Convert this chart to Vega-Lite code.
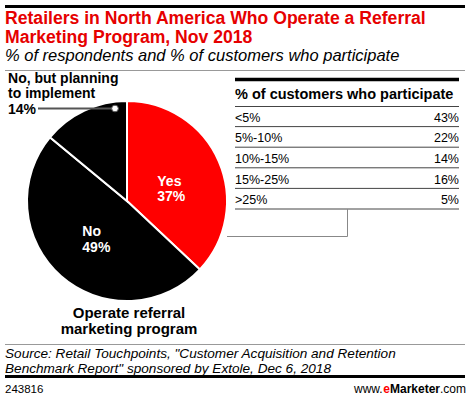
{
  "$schema": "https://vega.github.io/schema/vega-lite/v6.json",
  "background": "white",
  "autosize": {"type": "none"},
  "width": 461,
  "height": 394,
  "padding": {"left": 5, "top": 5, "right": 4, "bottom": 0},
  "config": {"view": {"stroke": null}, "font": "Liberation Sans"},
  "datasets": {
    "operate": [
      {"answer": "Yes", "share": 0.37, "rank": 1},
      {"answer": "No", "share": 0.49, "rank": 2},
      {"answer": "No, but planning\nto implement", "share": 0.14, "rank": 3}
    ],
    "participate": [
      {"range": "<5%", "share": 0.43},
      {"range": "5%-10%", "share": 0.22},
      {"range": "10%-15%", "share": 0.14},
      {"range": "15%-25%", "share": 0.16},
      {"range": ">25%", "share": 0.05}
    ],
    "one": [{}]
  },
  "layer": [
    {"data": {"name": "one"}, "mark": {"type": "rule", "color": "#000000", "strokeWidth": 3}, "encoding": {"x": {"value": 0}, "x2": {"value": 460}, "y": {"value": 1.5}}},
    {"data": {"name": "one"}, "mark": {"type": "text", "text": ["Retailers in North America Who Operate a Referral", "Marketing Program, Nov 2018"], "align": "left", "baseline": "alphabetic", "fontSize": 17.6, "fontWeight": "bold", "color": "#e60000", "lineHeight": 18.5}, "encoding": {"x": {"value": 0}, "y": {"value": 19}}},
    {"data": {"name": "one"}, "mark": {"type": "text", "text": "% of respondents and % of customers who participate", "align": "left", "baseline": "alphabetic", "fontSize": 16.5, "fontStyle": "italic", "color": "#000000"}, "encoding": {"x": {"value": 0}, "y": {"value": 55.5}}},
    {"data": {"name": "one"}, "mark": {"type": "rule", "color": "#999999", "strokeWidth": 1}, "encoding": {"x": {"value": 0}, "x2": {"value": 460}, "y": {"value": 65.5}}},

    {"data": {"name": "operate"}, "mark": {"type": "arc", "outerRadius": 100, "stroke": "#ffffff", "strokeWidth": 2},
     "encoding": {
       "x": {"value": 122}, "y": {"value": 196},
       "theta": {"field": "share", "type": "quantitative", "stack": true},
       "order": {"field": "rank", "type": "quantitative"},
       "color": {"field": "answer", "type": "nominal", "scale": {"domain": ["Yes", "No", "No, but planning\nto implement"], "range": ["#ff0000", "#000000", "#000000"]}, "legend": null}
     }},
    {"data": {"name": "operate"}, "mark": {"type": "text", "radius": 33, "align": "left", "baseline": "middle", "dy": -6, "fontSize": 14, "fontWeight": "bold", "color": "#ffffff"},
     "encoding": {"x": {"value": 122}, "y": {"value": 196}, "theta": {"field": "share", "type": "quantitative", "stack": true}, "order": {"field": "rank", "type": "quantitative"},
       "text": {"condition": {"test": "datum.answer === 'Yes'", "field": "answer"}, "value": ""}}},
    {"data": {"name": "operate"}, "mark": {"type": "text", "radius": 33, "align": "left", "baseline": "middle", "dy": 9.5, "fontSize": 14, "fontWeight": "bold", "color": "#ffffff"},
     "encoding": {"x": {"value": 122}, "y": {"value": 196}, "theta": {"field": "share", "type": "quantitative", "stack": true}, "order": {"field": "rank", "type": "quantitative"},
       "text": {"condition": {"test": "datum.answer === 'Yes'", "field": "share", "format": ".0%"}, "value": ""}}},
    {"data": {"name": "operate"}, "mark": {"type": "text", "radius": 60, "align": "left", "baseline": "middle", "dx": -5, "dy": -14, "fontSize": 14, "fontWeight": "bold", "color": "#ffffff"},
     "encoding": {"x": {"value": 122}, "y": {"value": 196}, "theta": {"field": "share", "type": "quantitative", "stack": true}, "order": {"field": "rank", "type": "quantitative"},
       "text": {"condition": {"test": "datum.answer === 'No'", "field": "answer"}, "value": ""}}},
    {"data": {"name": "operate"}, "mark": {"type": "text", "radius": 60, "align": "left", "baseline": "middle", "dx": -5, "dy": 1.5, "fontSize": 14, "fontWeight": "bold", "color": "#ffffff"},
     "encoding": {"x": {"value": 122}, "y": {"value": 196}, "theta": {"field": "share", "type": "quantitative", "stack": true}, "order": {"field": "rank", "type": "quantitative"},
       "text": {"condition": {"test": "datum.answer === 'No'", "field": "share", "format": ".0%"}, "value": ""}}},
    {"data": {"name": "operate"}, "mark": {"type": "text", "radius": 100, "align": "left", "baseline": "middle", "dx": -76.4, "dy": -31.5, "fontSize": 14, "fontWeight": "bold", "color": "#000000", "lineBreak": "\n", "lineHeight": 15},
     "encoding": {"x": {"value": 122}, "y": {"value": 196}, "theta": {"field": "share", "type": "quantitative", "stack": true}, "order": {"field": "rank", "type": "quantitative"},
       "text": {"condition": {"test": "datum.rank === 3", "field": "answer"}, "value": ""}}},
    {"data": {"name": "operate"}, "mark": {"type": "text", "radius": 100, "align": "left", "baseline": "middle", "dx": -76.4, "dy": -1, "fontSize": 14, "fontWeight": "bold", "color": "#000000"},
     "encoding": {"x": {"value": 122}, "y": {"value": 196}, "theta": {"field": "share", "type": "quantitative", "stack": true}, "order": {"field": "rank", "type": "quantitative"},
       "text": {"condition": {"test": "datum.rank === 3", "field": "share", "format": ".0%"}, "value": ""}}},
    {"data": {"name": "one"}, "mark": {"type": "rule", "color": "#555555", "strokeWidth": 2}, "encoding": {"x": {"value": 33}, "x2": {"value": 110}, "y": {"value": 103.5}}},
    {"data": {"name": "one"}, "mark": {"type": "point", "filled": true, "fill": "#ffffff", "stroke": "#555555", "strokeWidth": 1, "size": 45, "opacity": 1}, "encoding": {"x": {"value": 110}, "y": {"value": 103.5}}},
    {"data": {"name": "one"}, "mark": {"type": "text", "text": ["Operate referral", "marketing program"], "align": "center", "baseline": "alphabetic", "fontSize": 15, "fontWeight": "bold", "lineHeight": 15.5, "color": "#000000"}, "encoding": {"x": {"value": 124}, "y": {"value": 313}}},

    {"data": {"name": "participate"}, "mark": {"type": "rule", "color": "#444444", "strokeWidth": 1},
     "encoding": {
       "y": {"field": "range", "type": "ordinal", "sort": null, "bandPosition": 1, "scale": {"range": [101, 204], "paddingInner": 0, "paddingOuter": 0}, "axis": null},
       "x": {"value": 230}, "x2": {"value": 454}
     }},
    {"data": {"name": "participate"}, "mark": {"type": "text", "align": "left", "baseline": "middle", "dy": 1.5, "fontSize": 12.5, "color": "#000000"},
     "encoding": {
       "y": {"field": "range", "type": "ordinal", "sort": null},
       "x": {"value": 230},
       "text": {"field": "range"}
     }},
    {"data": {"name": "participate"}, "mark": {"type": "text", "align": "right", "baseline": "middle", "dy": 1.5, "fontSize": 12.5, "color": "#000000"},
     "encoding": {
       "y": {"field": "range", "type": "ordinal", "sort": null},
       "x": {"value": 454},
       "text": {"field": "share", "format": ".0%"}
     }},
    {"data": {"name": "one"}, "mark": {"type": "rule", "color": "#444444", "strokeWidth": 1}, "encoding": {"x": {"value": 230}, "x2": {"value": 454}, "y": {"value": 101.5}}},
    {"data": {"name": "one"}, "mark": {"type": "rule", "color": "#000000", "strokeWidth": 3.5}, "encoding": {"x": {"value": 230}, "x2": {"value": 454}, "y": {"value": 74.5}}},
    {"data": {"name": "one"}, "mark": {"type": "text", "text": "% of customers who participate", "align": "left", "baseline": "middle", "fontSize": 14.5, "fontWeight": "bold", "color": "#000000"}, "encoding": {"x": {"value": 230}, "y": {"value": 90}}},
    {"data": {"name": "one"}, "mark": {"type": "rule", "color": "#888888", "strokeWidth": 1}, "encoding": {"x": {"value": 342.5}, "y": {"value": 204}, "y2": {"value": 231.5}}},
    {"data": {"name": "one"}, "mark": {"type": "rule", "color": "#888888", "strokeWidth": 1}, "encoding": {"x": {"value": 222}, "x2": {"value": 342.5}, "y": {"value": 231.5}}},

    {"data": {"name": "one"}, "mark": {"type": "rule", "color": "#999999", "strokeWidth": 1}, "encoding": {"x": {"value": 0}, "x2": {"value": 460}, "y": {"value": 339.5}}},
    {"data": {"name": "one"}, "mark": {"type": "text", "text": ["Source: Retail Touchpoints, \"Customer Acquisition and Retention", "Benchmark Report\" sponsored by Extole, Dec 6, 2018"], "align": "left", "baseline": "alphabetic", "fontSize": 13.6, "fontStyle": "italic", "lineHeight": 14.5, "color": "#000000"}, "encoding": {"x": {"value": 0}, "y": {"value": 353}}},
    {"data": {"name": "one"}, "mark": {"type": "rule", "color": "#000000", "strokeWidth": 3}, "encoding": {"x": {"value": 0}, "x2": {"value": 460}, "y": {"value": 371.5}}},
    {"data": {"name": "one"}, "mark": {"type": "text", "text": "243816", "align": "left", "baseline": "alphabetic", "fontSize": 11.5, "color": "#000000"}, "encoding": {"x": {"value": 0}, "y": {"value": 388}}},
    {"data": {"name": "one"}, "mark": {"type": "text", "text": "www.", "align": "left", "baseline": "alphabetic", "fontSize": 12, "color": "#000000"}, "encoding": {"x": {"value": 349}, "y": {"value": 388}}},
    {"data": {"name": "one"}, "mark": {"type": "text", "text": "e", "align": "left", "baseline": "alphabetic", "fontSize": 12, "fontWeight": "bold", "color": "#ff0000"}, "encoding": {"x": {"value": 378.3}, "y": {"value": 388}}},
    {"data": {"name": "one"}, "mark": {"type": "text", "text": "Marketer", "align": "left", "baseline": "alphabetic", "fontSize": 12, "fontWeight": "bold", "color": "#000000"}, "encoding": {"x": {"value": 385}, "y": {"value": 388}}},
    {"data": {"name": "one"}, "mark": {"type": "text", "text": ".com", "align": "left", "baseline": "alphabetic", "fontSize": 12, "color": "#000000"}, "encoding": {"x": {"value": 435}, "y": {"value": 388}}}
  ]
}
